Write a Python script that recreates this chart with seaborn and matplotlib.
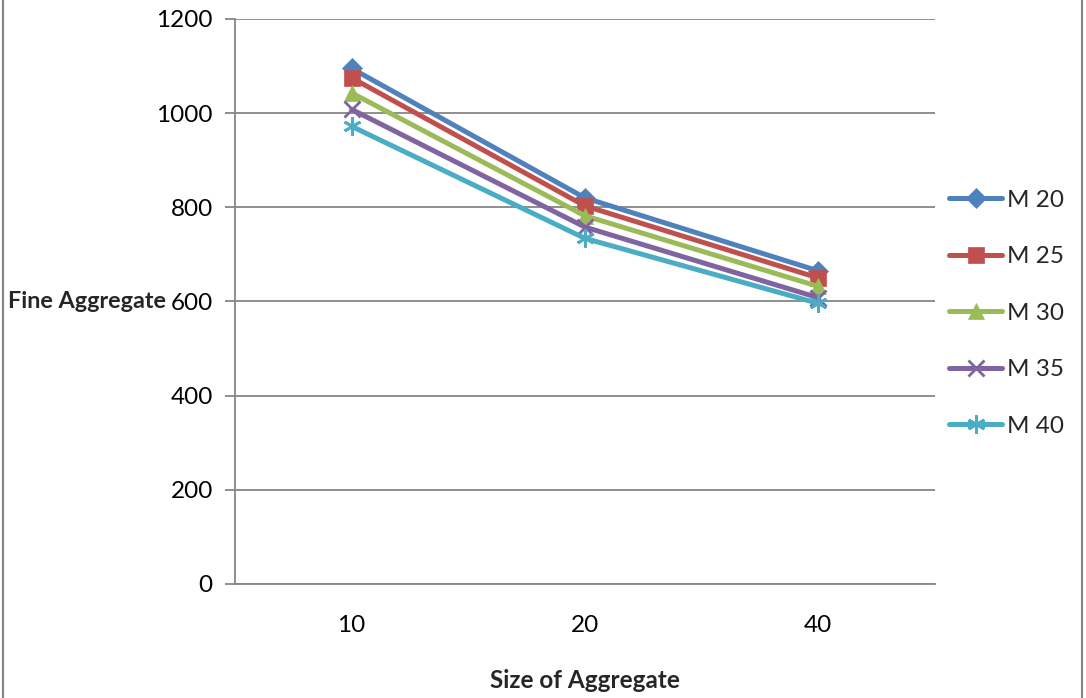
import matplotlib
matplotlib.use("Agg")
import matplotlib.pyplot as plt
import matplotlib.patches as mpatches
import seaborn as sns
import pandas as pd

# Fine aggregate content (kg/m3) by maximum aggregate size, per concrete grade
sizes = ["10", "20", "40"]
m20 = [1095, 820, 665]
m25 = [1075, 803, 650]
m30 = [1043, 782, 632]
m35 = [1008, 758, 608]
m40 = [972, 734, 596]

grades = ["M 20", "M 25", "M 30", "M 35", "M 40"]
series = [m20, m25, m30, m35, m40]

colors = ["#4F81BD", "#C0504D", "#9BBB59", "#8064A2", "#4BACC6"]
markers = ["D", "s", "^", "x", (6, 2, 0)]
msizes = [10, 11, 11, 12, 13]

rows = []
for g, vals in zip(grades, series):
    for s, v in zip(sizes, vals):
        rows.append({"size": s, "grade": g, "value": v})
df = pd.DataFrame(rows)

sns.set_theme(style="white")
plt.rcParams["font.family"] = ["Lato", "DejaVu Sans"]

W, H = 1086, 698
fs = 17.5
fig = plt.figure(figsize=(W / 100, H / 100), dpi=100)
ax = fig.add_axes([235 / W, 1 - 584 / H, 700 / W, 565 / H])

grid_c = "#868686"
for g, c, m, ms in zip(grades, colors, markers, msizes):
    sub = df[df["grade"] == g]
    sns.lineplot(data=sub, x="size", y="value", ax=ax, color=c, lw=3.6,
                 marker=m, markersize=ms, markeredgecolor=c,
                 markeredgewidth=2 if m in ("x", (6, 2, 0)) else 0.5,
                 label=g, sort=False)

ax.set_xlim(-0.5, 2.5)
ax.set_ylim(0, 1200)
ax.set_yticks(range(0, 1201, 200))
ax.yaxis.grid(True, color=grid_c, lw=1.3)
ax.xaxis.grid(False)
ax.set_axisbelow(True)
for sp in ["top", "right"]:
    ax.spines[sp].set_visible(False)
for sp in ["left", "bottom"]:
    ax.spines[sp].set_color(grid_c)
    ax.spines[sp].set_linewidth(1.3)

ax.set_xticks([0, 1, 2])
ax.set_xticks([-0.5, 0.5, 1.5, 2.5], minor=True)
ax.tick_params(axis="x", which="major", length=0, pad=22, labelsize=fs, colors="black")
ax.tick_params(axis="x", which="minor", length=7, width=1.3, color=grid_c, direction="out")
ax.tick_params(axis="y", length=7, width=1.3, color=grid_c, direction="out",
               pad=9, labelsize=fs, labelcolor="black", left=True)
ax.set_xlabel("")
ax.set_ylabel("")

fig.text(8 / W, 1 - 302 / H, "Fine Aggregate", fontsize=16.8, fontweight="bold",
         ha="left", va="center")
fig.text(585 / W, 1 - 680 / H, "Size of Aggregate", fontsize=fs, fontweight="bold",
         ha="center", va="center")

leg = ax.legend(loc="center left", bbox_to_anchor=(927 / W, 1 - 313 / H),
                bbox_transform=fig.transFigure, frameon=False, fontsize=fs,
                handlelength=2.2, labelspacing=1.46, handletextpad=0.2)

# chart area border
fig.patches.append(mpatches.Rectangle((3 / W, -0.01), 1079 / W, 1.05,
                                      transform=fig.transFigure, fill=False,
                                      edgecolor=grid_c, lw=1.5))

fig.savefig("out.png", dpi=100)
